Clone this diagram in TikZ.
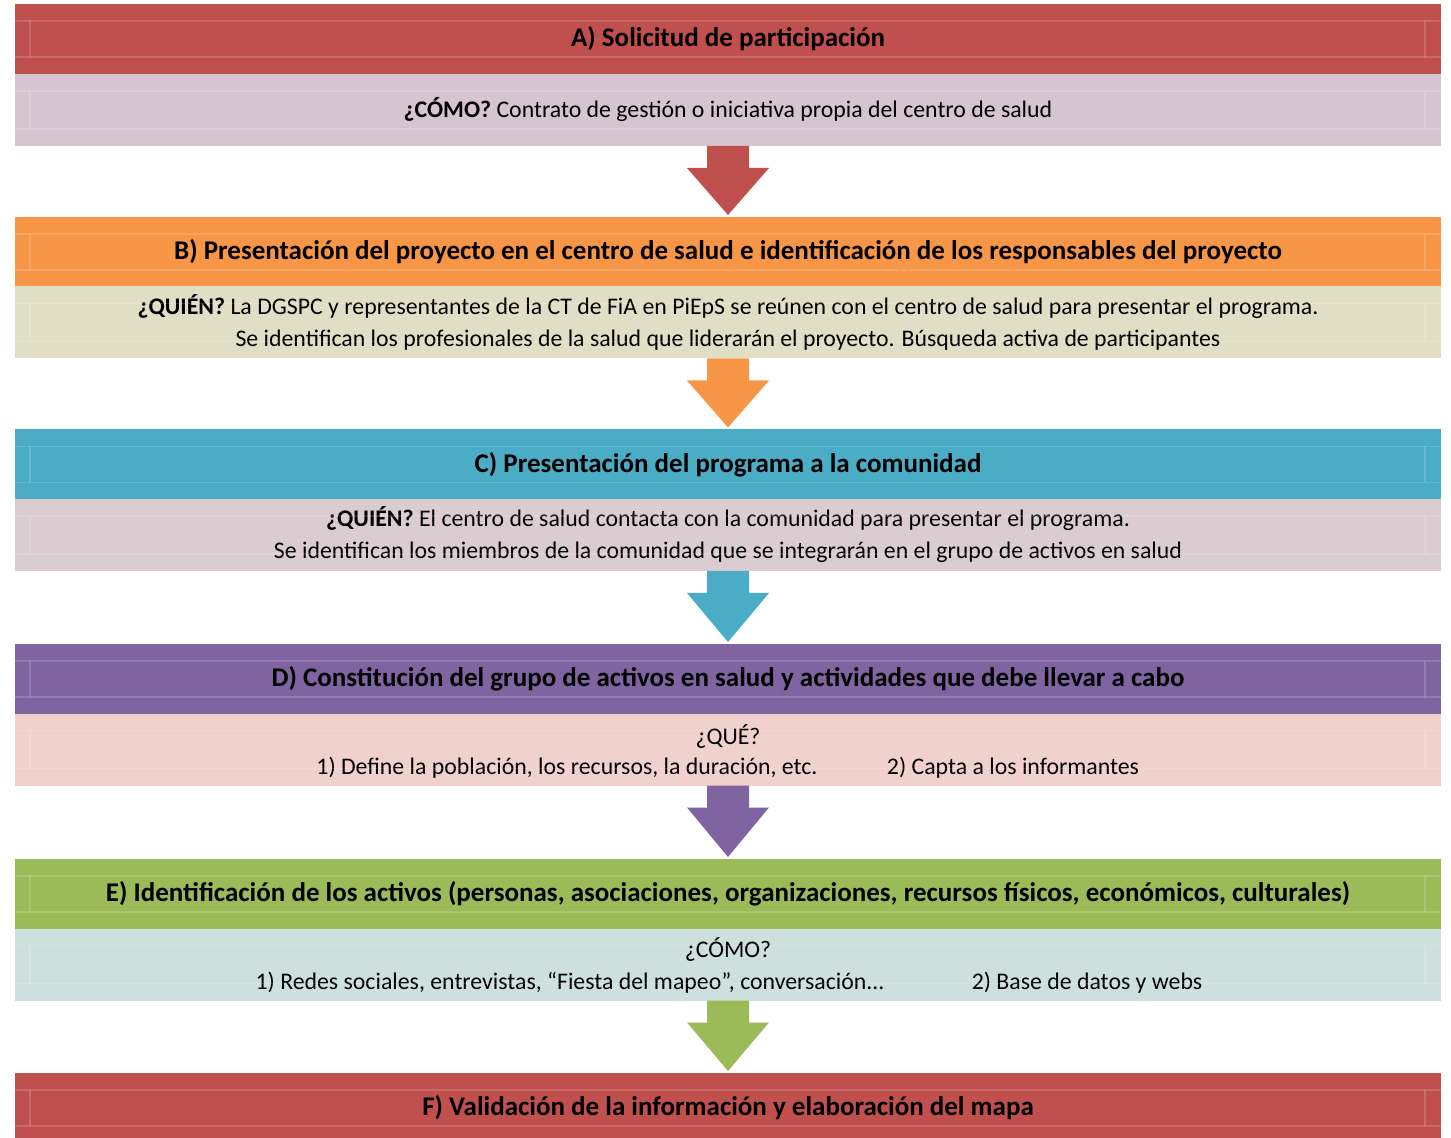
\documentclass[tikz,border=0pt]{standalone}
\usepackage{fontspec}
\setmainfont{Carlito}
\usetikzlibrary{calc}
\usetikzlibrary{positioning}

\definecolor{stepRed}{HTML}{C0504D}
\definecolor{stepOrange}{HTML}{F79646}
\definecolor{stepBlue}{HTML}{4BACC6}
\definecolor{stepPurple}{HTML}{8064A2}
\definecolor{stepGreen}{HTML}{9BBB59}
\definecolor{bodyLilac}{HTML}{D7C4D1}
\definecolor{bodyKhaki}{HTML}{E0DFC6}
\definecolor{bodyMauve}{HTML}{DACCD0}
\definecolor{bodyRose}{HTML}{F0D1CC}
\definecolor{bodyMint}{HTML}{CDE0DE}

\tikzset{
  band/.style={minimum width=713pt, inner sep=0pt, outer sep=0pt, text=black},
  head/.style={band, minimum height=35pt, font=\fontsize{13.5}{16}\selectfont\bfseries},
  body/.style={band, minimum height=36pt, align=center, font=\fontsize{11.9}{16}\selectfont},
  line/.style={inner sep=0pt, font=\fontsize{11.9}{16}\selectfont},
  cellline/.style={draw=white, opacity=.15, line width=.6pt}
}

% block arrow between two bands
\newcommand{\stepArrow}[3]{%
  \fill[#3] ($(#1.south)+(-21,0)$) -- ($(#1.south)+(21,0)$)
    -- ($(#1.south)+(21,22)$) -- ($(#1.south)+(41,22)$)
    -- ($(#2.north)+(0,-2)$)
    -- ($(#1.south)+(-41,22)$) -- ($(#1.south)+(-21,22)$) -- cycle;}

% faint table lines inside a band
\newcommand{\cellGrid}[1]{%
  \draw[cellline] ($(#1.north west)+(0,17)$) -- ($(#1.north east)+(0,17)$);
  \draw[cellline] ($(#1.south west)+(0,-17)$) -- ($(#1.south east)+(0,-17)$);
  \draw[cellline] ($(#1.north west)+(15,17)$) -- ($(#1.south west)+(15,-17)$);
  \draw[cellline] ($(#1.north east)+(-16,17)$) -- ($(#1.south east)+(-16,-17)$);}

\begin{document}
\begin{tikzpicture}[x=0.5pt,y=-0.5pt]
  \useasboundingbox (0,0) rectangle (1451,1138);

  %% A) solicitud
  \node[head, fill=stepRed] (Ahead) at (728,39) {A) Solicitud de participación};
  \node[body, fill=bodyLilac] (Abody) at (728,110)
    {\textbf{¿CÓMO?} Contrato de gestión o iniciativa propia del centro de salud};

  %% B) presentacion en el centro
  \node[head, fill=stepOrange] (Bhead) at (728,252)
    {B) Presentación del proyecto en el centro de salud e identificación de los responsables del proyecto};
  \node[body, fill=bodyKhaki] (Bbody) at (728,322.5)
    {\textbf{¿QUIÉN?} La DGSPC y representantes de la CT de FiA en PiEpS se reúnen con el centro de salud para presentar el programa.\\
     Se identifican los profesionales de la salud que liderarán el proyecto. Búsqueda activa de participantes};

  %% C) presentacion a la comunidad
  \node[head, fill=stepBlue] (Chead) at (728,464.5) {C) Presentación del programa a la comunidad};
  \node[body, fill=bodyMauve] (Cbody) at (728,535)
    {\textbf{¿QUIÉN?} El centro de salud contacta con la comunidad para presentar el programa.\\
     Se identifican los miembros de la comunidad que se integrarán en el grupo de activos en salud};

  %% D) grupo de activos
  \node[head, fill=stepPurple] (Dhead) at (728,679)
    {D) Constitución del grupo de activos en salud y actividades que debe llevar a cabo};
  \node[body, fill=bodyRose] (Dbody) at (728,749.5) {};
  \node[line] (Dq) at (728,737) {¿QUÉ?};
  \node[line] (D1) at (567,768) {1) Define la población, los recursos, la duración, etc.};
  \node[line] (D2) at (1013,768) {2) Capta a los informantes};

  %% E) identificacion de activos
  \node[head, fill=stepGreen] (Ehead) at (728,894)
    {E) Identificación de los activos (personas, asociaciones, organizaciones, recursos físicos, económicos, culturales)};
  \node[body, fill=bodyMint] (Ebody) at (728,964.5) {};
  \node[line] (Eq) at (728,950) {¿CÓMO?};
  \node[line] (E1) at (570,983) {1) Redes sociales, entrevistas, “Fiesta del mapeo”, conversación...};
  \node[line] (E2) at (1087,983) {2) Base de datos y webs};

  %% F) validacion
  \node[head, fill=stepRed] (Fhead) at (728,1108) {F) Validación de la información y elaboración del mapa};

  % table lines
  \foreach \b in {Ahead,Abody,Bhead,Bbody,Chead,Cbody,Dhead,Dbody,Ehead,Ebody,Fhead}
    {\cellGrid{\b}}

  % arrows
  \stepArrow{Abody}{Bhead}{stepRed}
  \stepArrow{Bbody}{Chead}{stepOrange}
  \stepArrow{Cbody}{Dhead}{stepBlue}
  \stepArrow{Dbody}{Ehead}{stepPurple}
  \stepArrow{Ebody}{Fhead}{stepGreen}
\end{tikzpicture}
\end{document}
